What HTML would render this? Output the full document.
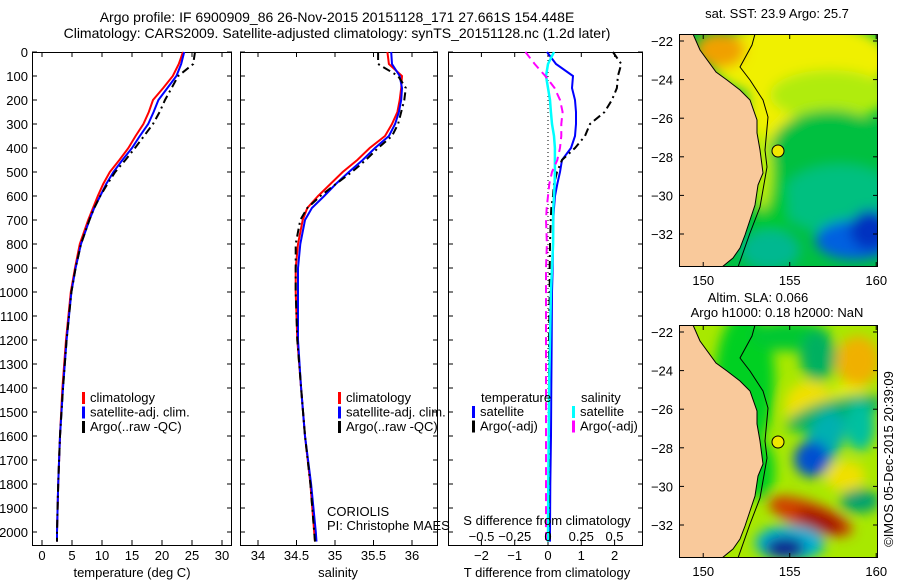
<!DOCTYPE html>
<html><head><meta charset="utf-8"><style>
body{margin:0;background:#fff;width:900px;height:580px;overflow:hidden}
svg{font-family:"Liberation Sans",sans-serif;font-size:13px}
</style></head><body>
<svg id="c" width="900" height="580" xmlns="http://www.w3.org/2000/svg">
<defs>
<filter id="bl" x="-20%" y="-20%" width="140%" height="140%"><feGaussianBlur stdDeviation="6"/></filter>
<clipPath id="m1"><rect x="679" y="34" width="199" height="233"/></clipPath>
<clipPath id="m2"><rect x="679" y="325" width="199" height="232"/></clipPath>
</defs>
<text x="337" y="22" text-anchor="middle" style="font-size:14px">Argo profile: IF 6900909_86 26-Nov-2015 20151128_171 27.661S 154.448E</text>
<text x="337" y="38" text-anchor="middle" style="font-size:14px">Climatology: CARS2009. Satellite-adjusted climatology: synTS_20151128.nc (1.2d later)</text>
<g id="g"></g>
</svg>
<script>
const depths=[0,50,100,150,200,250,300,350,400,450,500,550,600,650,700,800,900,1000,1200,1400,1600,1800,2000,2040];
const tClim=[23.5,22.8,21.8,20.2,18.5,17.8,16.9,15.6,14.4,12.9,11.3,10.2,9.3,8.5,7.7,6.3,5.5,4.8,4.0,3.4,3.0,2.7,2.5,2.5];
const tSat=[23.7,23.2,22.4,20.9,19.4,18.6,17.7,16.3,15.0,13.4,11.9,10.7,9.7,8.7,7.9,6.5,5.6,4.9,4.1,3.5,3.0,2.7,2.5,2.5];
const tArgo=[25.5,25.2,22.7,21.6,20.5,19.6,18.5,17.0,15.5,13.9,12.2,10.9,9.7,8.7,7.9,6.5,5.6,4.9,4.1,3.5,3.0,2.7,2.5,2.5];
const sClim=[35.68,35.70,35.87,35.86,35.84,35.81,35.74,35.65,35.45,35.29,35.10,34.94,34.78,34.64,34.58,34.52,34.49,34.49,34.51,34.56,34.61,34.68,34.73,34.74];
const sSat=[35.73,35.74,35.84,35.87,35.86,35.83,35.78,35.70,35.52,35.36,35.18,35.01,34.86,34.70,34.61,34.55,34.52,34.52,34.52,34.56,34.61,34.69,34.75,34.76];
const sArgo=[35.56,35.56,35.82,35.92,35.90,35.86,35.82,35.74,35.56,35.40,35.22,35.01,34.81,34.64,34.55,34.49,34.49,34.49,34.51,34.56,34.61,34.68,34.73,34.74];
const dT=[-0.03,0.24,0.75,0.72,0.81,0.84,0.84,0.81,0.69,0.42,0.36,0.28,0.21,0.18,0.16,0.15,0.14,0.12,0.11,0.10,0.09,0.07,0.06,0.06];
const dTArgo=[1.95,2.20,2.10,2.07,1.92,1.70,1.26,1.11,0.81,0.42,0.27,0.18,0.15,0.10,0.08,0.06,0.05,0.05,0.03,0.03,0.03,0.03,0.03,0.03];
const dS=[0.045,0.0,-0.015,0.0,0.015,0.022,0.03,0.045,0.052,0.052,0.052,0.05,0.045,0.04,0.038,0.038,0.03,0.022,0.015,0.008,0.005,0.002,0.0,0.0];
const dSArgo=[-0.17,-0.10,-0.02,0.05,0.09,0.11,0.10,0.10,0.09,0.07,0.03,0.01,0.0,-0.01,-0.015,-0.008,-0.015,-0.015,-0.015,-0.015,-0.015,-0.015,-0.015,-0.015];
const depthTicks=[0,100,200,300,400,500,600,700,800,900,1000,1100,1200,1300,1400,1500,1600,1700,1800,1900,2000];
const tTicks=[0,5,10,15,20,25,30];
const sTicks=[34,34.5,35,35.5,36];
const dtTicks=[-2,-1,0,1,2];
const dsTicks=[-0.5,-0.25,0,0.25,0.5];
const dsLabels=["\u22120.5","\u22120.25","0","0.25","0.5"];
const latTicks=[-22,-24,-26,-28,-30,-32];
const lonTicks=[150,155,160];

const NS='http://www.w3.org/2000/svg';
const G=document.getElementById('g');
function mk(t,a,p){const e=document.createElementNS(NS,t);for(const k in a)e.setAttribute(k,a[k]);(p||G).appendChild(e);return e;}
function tx(x,y,s,anchor){const e=mk('text',{x:x,y:y,'text-anchor':anchor||'start'});e.textContent=s;return e;}
const yS=d=>52+d*0.24;
const xT=v=>42+v*6;
const xS=v=>258+(v-34)*77;
const xDT=v=>548+v*33.3;
const xDS=v=>548+v*133;
const Y0=52,Y1=545;
function frame(x0,x1,name){const r=mk('rect',{x:x0+.5,y:Y0+.5,width:x1-x0,height:Y1-Y0,fill:'none',stroke:'#000'});}
function line(xs,xf,color,dash,w,name){const pts=xs.map((v,i)=>xf(v).toFixed(1)+','+yS(depths[i]).toFixed(1)).join(' ');
 const p=mk('polyline',{points:pts,fill:'none',stroke:color,'stroke-width':w||2});if(dash)p.setAttribute('stroke-dasharray',dash);
 
 }
function xticks(ticks,xf,labels,ly,name){ticks.forEach((t,i)=>{const x=xf(t);mk('line',{x1:x,y1:Y1,x2:x,y2:Y1-5,stroke:'#000'});mk('line',{x1:x,y1:Y0,x2:x,y2:Y0+5,stroke:'#000'});
 if(ly){const e=tx(x,ly,labels?labels[i]:String(t),'middle');}});}
function yticks(x0,x1,lab){depthTicks.forEach(d=>{const y=yS(d);mk('line',{x1:x0,y1:y,x2:x0+5,y2:y,stroke:'#000'});mk('line',{x1:x1-5,y1:y,x2:x1,y2:y,stroke:'#000'});
 if(lab){const e=tx(28,y+5,String(d),'end');}});}
function legend(x,y,items){items.forEach((it,i)=>{const yy=y+i*14.5;mk('rect',{x:x,y:yy-10,width:3,height:12,fill:it[0]});
 const e=tx(x+8,yy,it[1]);});}

// Panel 1
frame(32,231,'temperature-panel');yticks(32,232,true);
xticks(tTicks,xT,null,560,'temperature-tick-label');
line(tClim,xT,'#f00',null,2,'temp-climatology-line');
line(tSat,xT,'#00f',null,2,'temp-satellite-line');
line(tArgo,xT,'#000','8,4,2,4',2,'temp-argo-line');
let e=tx(132,577,'temperature (deg C)','middle');
legend(82,402,[['#f00','climatology'],['#00f','satellite-adj. clim.'],['#000','Argo(..raw -QC)']]);

// Panel 2
frame(240,437,'salinity-panel');yticks(240,438,false);
xticks(sTicks,xS,null,560,'salinity-tick-label');
line(sClim,xS,'#f00',null,2,'sal-climatology-line');
line(sSat,xS,'#00f',null,2,'sal-satellite-line');
line(sArgo,xS,'#000','8,4,2,4',2,'sal-argo-line');
e=tx(338,577,'salinity','middle');
legend(338,402,[['#f00','climatology'],['#00f','satellite-adj. clim.'],['#000','Argo(..raw -QC)']]);
e=tx(327,516,'CORIOLIS');
e=tx(327,530,'PI: Christophe MAES');

// Panel 3
frame(448,642,'difference-panel');yticks(448,643,false);
mk('line',{x1:548,y1:Y0,x2:548,y2:Y1,stroke:'#000','stroke-dasharray':'1,3'});
xticks(dtTicks,xDT,["\u22122","\u22121","0","1","2"],560,'t-diff-tick-label');
line(dT,xDT,'#00f',null,2,'t-diff-satellite-line');
line(dTArgo,xDT,'#000','8,4,2,4',2,'t-diff-argo-line');
line(dS,xDS,'#0ff',null,2.5,'s-diff-satellite-line');
line(dSArgo,xDS,'#f0f','8,5',2,'s-diff-argo-line');
dsTicks.forEach((t,i)=>{e=tx(xDS(t),541,dsLabels[i],'middle');});
e=tx(547,525,'S difference from climatology','middle');
e=tx(547,577,'T difference from climatology','middle');
e=tx(481,402,'temperature');
e=tx(581,402,'salinity');
legend(472,416,[['#00f','satellite'],['#000','Argo(-adj)']]);
legend(572,416,[['#0ff','satellite'],['#f0f','Argo(-adj)']]);

// Maps
const lonX=l=>679+(l-148.6)*17.3;
const latY=(l,top)=>top+7+(-22-l)*19.3;
const coast=[[693,34],[700,50],[716,72],[727,80],[740,90],[750,100],[757,120],[757,133],[760,150],[763,173],[758,185],[755,205],[750,220],[745,235],[740,248],[733,258],[722,267]];
const shelf=[[755,34],[752,45],[740,67],[750,80],[763,100],[768,117],[765,150],[767,167],[760,207],[750,233],[738,267]];
function map(top,clip,blobs,base,name){
 const g=mk('g',{'clip-path':'url(#'+clip+')'});
 mk('rect',{x:679,y:top,width:199,height:233,fill:base},g);
 const bg=mk('g',{filter:'url(#bl)'},g);
 blobs.forEach(b=>mk('ellipse',{cx:b[0],cy:b[1]+top-34,rx:b[2],ry:b[3],fill:b[4],transform:'rotate('+(b[5]||0)+' '+b[0]+' '+(b[1]+top-34)+')'},bg));
 const off=top-34;
 const lp=[[679,34+off]].concat(coast.map(p=>[p[0],p[1]+off])).concat([[679,267+off]]);
 const land=mk('polygon',{points:lp.map(p=>p.join(',')).join(' '),fill:'#f9c99b',stroke:'#000','stroke-width':1},g);
 
 mk('polyline',{points:shelf.map(p=>p[0]+','+(p[1]+off)).join(' '),fill:'none',stroke:'#000','stroke-width':1},g);
 mk('rect',{x:679.5,y:top+.5,width:198,height:232,fill:'none',stroke:'#000'});
 const m=mk('circle',{cx:778,cy:151+off,r:6,fill:'#f0e800',stroke:'#000'});
 latTicks.forEach(l=>{const y=latY(l,top);mk('line',{x1:679,y1:y,x2:684,y2:y,stroke:'#000'});mk('line',{x1:873,y1:y,x2:878,y2:y,stroke:'#000'});
  const t=tx(673,y+5,String(l).replace('-','\u2212'),'end');});
 lonTicks.forEach(l=>{const x=lonX(l);mk('line',{x1:x,y1:top,x2:x,y2:top+5,stroke:'#000'});mk('line',{x1:x,y1:top+233,x2:x,y2:top+228,stroke:'#000'});
  const t=tx(x,top+251,String(l),'middle');});
}
map(34,'m1',[
 [800,60,90,40,'#f0f000'],[772,110,25,60,'#f0f000'],[830,95,60,25,'#b0ec10'],
 [830,150,60,40,'#00c040'],[840,200,60,35,'#00c080'],[855,240,40,20,'#0060e0'],[870,230,20,20,'#0030c0'],
 [770,210,18,50,'#00c830'],[770,250,30,20,'#00b890'],[720,50,25,18,'#f0a000'],[762,170,10,40,'#c0f000']
],'#00c040','sst-map');
map(325,'m2',[
 [745,90,30,70,'#00d020'],[790,45,40,15,'#00c830'],[760,180,15,30,'#00d020'],
 [810,115,25,25,'#f0e000'],[850,110,20,20,'#e8f000'],[818,65,18,25,'#00b060'],[858,70,22,25,'#f0b000'],
 [835,122,50,14,'#00b060',-15],[825,148,18,30,'#00b0b0',20],[860,135,15,25,'#00c0a0'],[812,168,18,18,'#0050d0'],
 [845,185,20,15,'#f0e000'],[860,210,20,12,'#00a070'],
 [810,225,45,14,'#d04000',20],[820,230,25,9,'#a01000',20],
 [790,252,35,18,'#00b0d0'],[785,257,20,11,'#102090']
],'#a8e800','sla-map');
e=tx(777,18,'sat. SST: 23.9 Argo: 25.7','middle');
e=tx(758,302,'Altim. SLA: 0.066','middle');
e=tx(777,317,'Argo h1000: 0.18 h2000: NaN','middle');
e=tx(0,0,'\u00a9IMOS 05-Dec-2015 20:39:09','middle');e.setAttribute('transform','translate(893,459) rotate(-90)');

</script>
</body></html>
